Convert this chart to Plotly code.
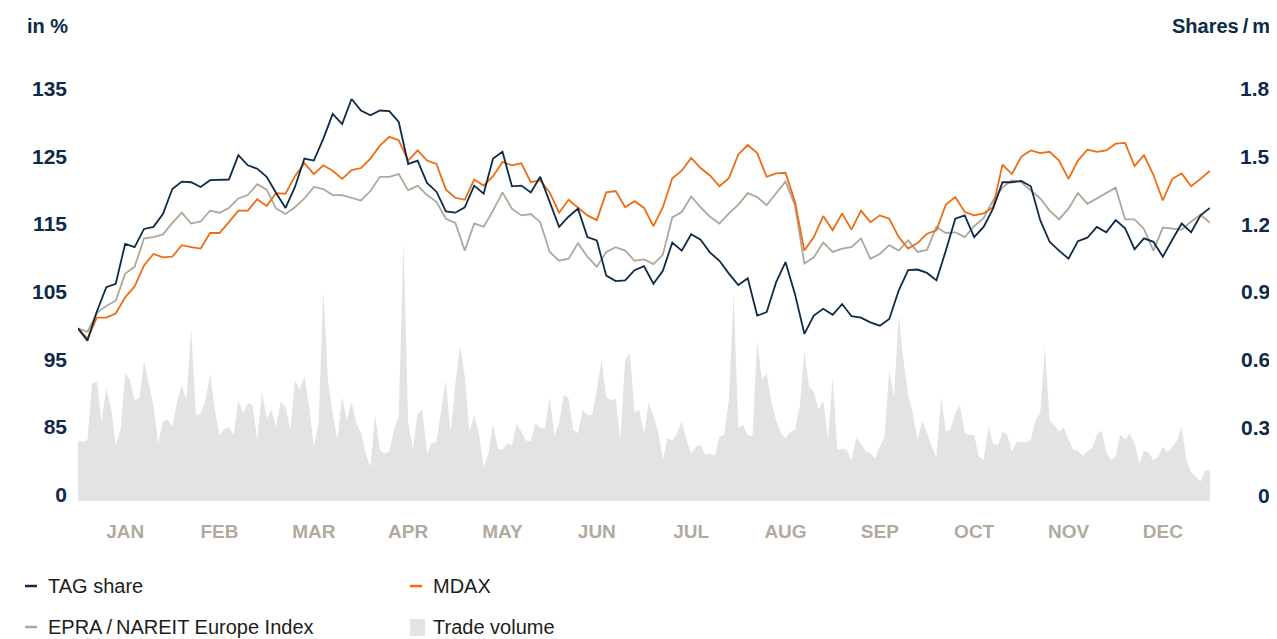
import numpy as np
import plotly.graph_objects as go

# indexed performance, start = 100 (sampled roughly every 3 days)
tag_share = [
    100.0, 98.2, 102.5, 106.1, 106.6, 112.5, 112.0, 114.7, 115.0, 116.9,
    120.6, 121.7, 121.6, 120.9, 121.9, 122.0, 122.0, 125.6, 124.1, 123.6,
    122.4, 120.0, 117.8, 120.9, 125.1, 124.8, 128.0, 131.7, 130.2, 133.9,
    132.2, 131.5, 132.2, 132.1, 130.5, 124.3, 124.8, 121.5, 120.2, 117.3,
    117.1, 117.9, 121.1, 119.9, 125.1, 126.1, 121.0, 121.1, 120.1, 122.4,
    118.7, 115.0, 116.5, 117.7, 113.5, 113.0, 107.8, 107.0, 107.1, 108.6,
    109.2, 106.6, 108.5, 112.7, 111.5, 113.9, 113.1, 111.2, 110.0, 108.1,
    106.4, 107.4, 101.9, 102.4, 106.8, 109.8, 105.1, 99.2, 101.9, 102.9,
    102.0, 103.6, 101.8, 101.6, 100.9, 100.4, 101.4, 105.6, 108.6, 108.7,
    108.2, 107.1, 111.5, 116.2, 116.7, 113.5, 115.0, 117.7, 121.6, 121.6,
    121.8, 121.0, 116.0, 112.8, 111.5, 110.3, 112.9, 113.4, 115.0, 114.2,
    116.0, 114.8, 111.7, 113.3, 112.8, 110.6, 113.1, 115.5, 114.2, 116.7,
    117.8,
]
mdax = [
    100.0, 98.5, 101.6, 101.6, 102.2, 104.6, 106.2, 109.3, 111.0, 110.5,
    110.6, 112.3, 112.0, 111.8, 114.1, 114.1, 115.7, 117.4, 117.4, 119.1,
    118.1, 120.0, 119.9, 122.5, 124.4, 122.8, 124.1, 123.3, 122.1, 123.4,
    123.7, 125.1, 127.0, 128.3, 127.8, 124.8, 126.3, 124.8, 124.3, 120.5,
    119.3, 119.0, 122.0, 121.1, 122.5, 124.6, 124.1, 124.4, 121.6, 121.9,
    120.1, 117.1, 119.0, 117.9, 116.7, 116.0, 120.1, 120.3, 117.9, 118.8,
    117.8, 115.1, 117.9, 122.2, 123.3, 125.2, 123.7, 122.6, 121.0, 122.2,
    125.7, 127.1, 125.9, 122.4, 122.9, 123.0, 118.7, 111.5, 113.5, 116.6,
    114.5, 117.0, 114.6, 117.4, 115.7, 116.7, 116.2, 113.5, 111.8, 112.6,
    114.0, 114.5, 118.3, 119.4, 117.2, 116.7, 117.0, 117.9, 124.2, 122.8,
    125.4, 126.3, 125.9, 126.1, 124.8, 122.1, 124.8, 126.4, 126.1, 126.3,
    127.3, 127.4, 124.0, 125.6, 122.7, 118.9, 122.1, 122.9, 121.0, 122.1,
    123.3,
]
epra = [
    100.0, 99.5, 102.3, 103.3, 104.1, 108.1, 109.1, 113.3, 113.5, 113.9,
    115.6, 117.1, 115.5, 115.8, 117.4, 117.1, 117.8, 119.2, 119.7, 121.3,
    120.5, 117.7, 116.9, 117.9, 119.2, 120.9, 120.6, 119.7, 119.7, 119.3,
    118.9, 120.3, 122.4, 122.4, 122.8, 120.4, 121.1, 119.7, 118.7, 116.2,
    115.6, 111.5, 115.5, 115.0, 117.4, 120.1, 117.7, 116.7, 116.9, 115.7,
    111.3, 110.0, 110.3, 112.6, 110.6, 109.1, 111.3, 112.0, 111.5, 110.0,
    110.2, 109.5, 110.9, 116.4, 117.2, 119.5, 117.9, 116.5, 115.5, 117.0,
    118.3, 120.0, 119.4, 118.2, 120.0, 121.7, 118.2, 109.6, 110.5, 112.7,
    111.3, 111.8, 112.0, 113.3, 110.3, 111.0, 112.3, 111.5, 113.0, 111.3,
    111.6, 115.0, 114.1, 114.2, 113.5, 115.1, 116.3, 118.9, 120.8, 121.9,
    121.6, 120.4, 119.2, 117.4, 116.1, 117.7, 120.0, 118.4, 119.2, 119.9,
    120.8, 116.1, 116.1, 114.7, 111.5, 114.9, 114.7, 114.6, 115.8, 116.8,
    115.6,
]
# trade volume in million shares (sampled twice as often)
trade_volume = [
    0.267, 0.263, 0.270, 0.521, 0.529, 0.352, 0.499, 0.411, 0.248, 0.315,
    0.566, 0.536, 0.448, 0.455, 0.620, 0.529, 0.425, 0.256, 0.352, 0.362,
    0.329, 0.440, 0.514, 0.448, 0.765, 0.381, 0.388, 0.440, 0.566, 0.403,
    0.292, 0.318, 0.328, 0.292, 0.448, 0.388, 0.433, 0.425, 0.270, 0.484,
    0.366, 0.403, 0.329, 0.440, 0.418, 0.315, 0.536, 0.492, 0.554, 0.418,
    0.241, 0.344, 0.930, 0.536, 0.388, 0.270, 0.462, 0.359, 0.440, 0.344,
    0.303, 0.211, 0.152, 0.381, 0.226, 0.211, 0.219, 0.315, 0.377, 1.150,
    0.350, 0.229, 0.388, 0.403, 0.211, 0.256, 0.263, 0.403, 0.536, 0.300,
    0.520, 0.687, 0.551, 0.307, 0.381, 0.300, 0.152, 0.211, 0.344, 0.233,
    0.226, 0.256, 0.248, 0.344, 0.307, 0.267, 0.266, 0.344, 0.322, 0.322,
    0.462, 0.291, 0.344, 0.470, 0.455, 0.315, 0.300, 0.403, 0.381, 0.381,
    0.492, 0.625, 0.462, 0.448, 0.452, 0.270, 0.625, 0.657, 0.396, 0.403,
    0.300, 0.436, 0.374, 0.307, 0.182, 0.281, 0.266, 0.300, 0.352, 0.273,
    0.211, 0.241, 0.248, 0.204, 0.211, 0.201, 0.285, 0.295, 0.448, 0.920,
    0.322, 0.337, 0.292, 0.288, 0.716, 0.536, 0.566, 0.440, 0.359, 0.303,
    0.275, 0.307, 0.315, 0.418, 0.662, 0.507, 0.484, 0.403, 0.448, 0.270,
    0.550, 0.226, 0.233, 0.226, 0.182, 0.278, 0.256, 0.219, 0.211, 0.189,
    0.241, 0.282, 0.580, 0.462, 0.824, 0.625, 0.470, 0.388, 0.270, 0.356,
    0.303, 0.241, 0.196, 0.462, 0.307, 0.318, 0.388, 0.425, 0.303, 0.292,
    0.292, 0.196, 0.182, 0.329, 0.256, 0.245, 0.307, 0.295, 0.219, 0.263,
    0.263, 0.260, 0.270, 0.359, 0.388, 0.684, 0.356, 0.337, 0.307, 0.326,
    0.270, 0.226, 0.223, 0.199, 0.219, 0.233, 0.292, 0.312, 0.219, 0.182,
    0.199, 0.295, 0.273, 0.297, 0.256, 0.167, 0.223, 0.214, 0.182, 0.196,
    0.241, 0.217, 0.241, 0.267, 0.329, 0.182, 0.129, 0.108, 0.086, 0.137,
    0.134,
]
months = ["JAN", "FEB", "MAR", "APR", "MAY", "JUN", "JUL", "AUG", "SEP", "OCT", "NOV", "DEC"]
left_ticks = [75, 85, 95, 105, 115, 125, 135]
left_labels = ["0", "85", "95", "105", "115", "125", "135"]
right_ticks = [0, 0.3, 0.6, 0.9, 1.2, 1.5, 1.8]

NAVY = "#0d2b48"
ORANGE = "#ec6d13"
GREY = "#aea89b"
VOL = "#e3e3e3"
FONT = "Liberation Sans, Arial, sans-serif"

# the page puts the figure 8px in from the top-left corner
OFF = 8
W, H = 1277 - OFF, 639 - OFF
L, R, T, B = 70, 4, 70, 138

n = len(tag_share) - 1
x = np.arange(len(tag_share))
xv = np.arange(len(trade_volume)) / 2

fig = go.Figure()
fig.add_trace(go.Scatter(x=xv, y=trade_volume, name="Trade volume", yaxis="y2",
                         mode="lines", line=dict(width=0), fill="tozeroy",
                         fillcolor=VOL))
fig.add_trace(go.Scatter(x=x, y=epra, name="EPRA/NAREIT Europe Index", mode="lines",
                         line=dict(color=GREY, width=1.8)))
fig.add_trace(go.Scatter(x=x, y=mdax, name="MDAX", mode="lines",
                         line=dict(color=ORANGE, width=1.8)))
fig.add_trace(go.Scatter(x=x, y=tag_share, name="TAG share", mode="lines",
                         line=dict(color=NAVY, width=1.8)))

x_end = (W - L - R - 63) / (W - L - R)


def px(p):
    return (p - OFF - L) / (W - L - R)


def py(p):
    return (H - B - (p - OFF)) / (H - T - B)


annotations = [
    dict(text="in %", x=px(25), y=py(26), xanchor="left"),
    dict(text="Shares\u2009/\u2009m", x=px(1272), y=py(26), xanchor="right"),
]
for a in annotations:
    a.update(xref="paper", yref="paper", yanchor="middle", showarrow=False,
             font=dict(family=FONT, size=20, color=NAVY, weight=700))

# right axis labels, right aligned like the original
for v in right_ticks:
    annotations.append(dict(text=f"{v:g}", x=px(1272), y=v, xref="paper", yref="y2",
                            xanchor="right", yanchor="middle", yshift=6, showarrow=False,
                            font=dict(family=FONT, size=21, color=NAVY, weight=700)))

# legend drawn by hand: two columns, two rows
legend_items = [("TAG share", NAVY, 25, 586), ("MDAX", ORANGE, 410, 586),
                ("EPRA\u2009/\u2009NAREIT Europe Index", GREY, 25, 627),
                ("Trade volume", VOL, 410, 627)]
shapes = []
for name, col, lx, ly in legend_items:
    if name == "Trade volume":
        shapes.append(dict(type="rect", xref="paper", yref="paper",
                           x0=px(lx), x1=px(lx + 15), y0=py(ly + 9), y1=py(ly - 8),
                           fillcolor=col, line=dict(width=0)))
    else:
        shapes.append(dict(type="line", xref="paper", yref="paper",
                           x0=px(lx), x1=px(lx + 12), y0=py(ly), y1=py(ly),
                           line=dict(color=col, width=2.5)))
    annotations.append(dict(text=name, x=px(lx + 21), y=py(ly), xref="paper", yref="paper",
                            xanchor="left", yanchor="middle", showarrow=False,
                            font=dict(family=FONT, size=20, color="#1d1d1b")))

fig.update_layout(
    width=W, height=H,
    margin=dict(l=L, r=R, t=T, b=B),
    paper_bgcolor="white", plot_bgcolor="white",
    showlegend=False,
    xaxis=dict(domain=[0, x_end], range=[0, n], showgrid=False, zeroline=False,
               tickvals=[(m + 0.5) * n / 12 for m in range(12)], ticktext=months,
               ticks="", ticklabelstandoff=17,
               tickfont=dict(family=FONT, size=19, color="#b1aa9d", weight=700)),
    yaxis=dict(range=[74.5, 137], showgrid=False, zeroline=False,
               tickvals=left_ticks, ticktext=left_labels, ticks="",
               ticklabelstandoff=10, ticklabelshift=-3,
               tickfont=dict(family=FONT, size=21, color=NAVY, weight=700)),
    yaxis2=dict(range=[0, (H - T - B) / 225.6], overlaying="y", anchor="x",
                side="right", showgrid=False, zeroline=False, showticklabels=False),
    annotations=annotations,
    shapes=shapes,
)

fig.write_html("out.html")
